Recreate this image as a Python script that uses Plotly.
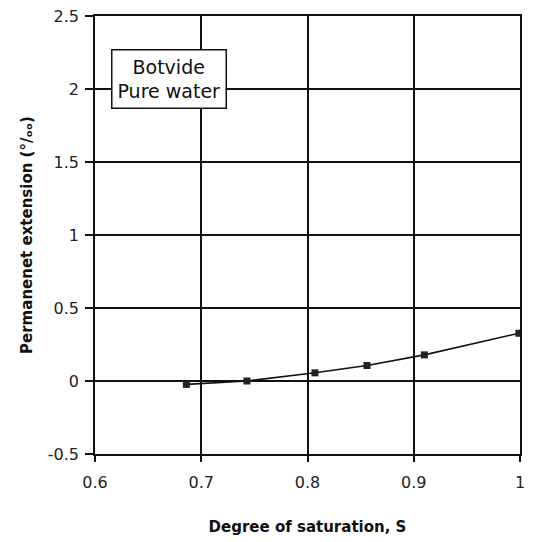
import plotly.graph_objects as go

saturation = [0.686, 0.743, 0.807, 0.856, 0.910, 0.999]
extension = [-0.023, 0.0, 0.056, 0.106, 0.179, 0.327]

x_ticks = [0.6, 0.7, 0.8, 0.9, 1.0]
x_labels = ["0.6", "0.7", "0.8", "0.9", "1"]
y_ticks = [-0.5, 0, 0.5, 1, 1.5, 2, 2.5]
y_labels = ["-0.5", "0", "0.5", "1", "1.5", "2", "2.5"]

fnt = "DejaVu Sans"

fig = go.Figure()
fig.add_trace(go.Scatter(
    x=saturation, y=extension, mode="lines+markers",
    line=dict(color="#111", width=1.6),
    marker=dict(symbol="square", size=7, color="#222"),
    showlegend=False))

fig.add_annotation(
    x=0.67, y=2.07, xref="x", yref="y",
    text="Botvide<br>Pure water", showarrow=False,
    font=dict(family=fnt, size=19, color="#111"),
    bgcolor="white", bordercolor="#111", borderwidth=1.5, borderpad=5)

fig.update_xaxes(
    range=[0.6, 1.0], tickvals=x_ticks, ticktext=x_labels,
    showgrid=True, gridcolor="#111", gridwidth=1.5,
    showline=True, linecolor="#111", linewidth=1.5, mirror=True,
    ticks="outside", ticklen=6, tickcolor="#111", tickwidth=1.5,
    ticklabelstandoff=7, automargin=False, ticklabeloverflow="allow",
    zeroline=False, tickfont=dict(family=fnt, size=16, color="#222"),
    title=dict(text="<b>Degree of saturation, S</b>", standoff=31,
               font=dict(family=fnt, size=15, color="#111")))
fig.update_yaxes(
    range=[-0.5, 2.5], tickvals=y_ticks, ticktext=y_labels,
    showgrid=True, gridcolor="#111", gridwidth=1.5,
    showline=True, linecolor="#111", linewidth=1.5, mirror=True,
    ticks="outside", ticklen=8, tickcolor="#111", tickwidth=1.5,
    ticklabelstandoff=3, automargin=False, ticklabeloverflow="allow",
    zeroline=False, tickfont=dict(family=fnt, size=16, color="#222"),
    title=dict(text="<b>Permanenet extension (°/ₒₒ)</b>", standoff=12,
               font=dict(family=fnt, size=15, color="#111")))

fig.update_layout(
    width=543, height=542,
    margin=dict(l=87, r=31, t=8, b=96),
    plot_bgcolor="white", paper_bgcolor="white")

fig.write_html("out.html")
